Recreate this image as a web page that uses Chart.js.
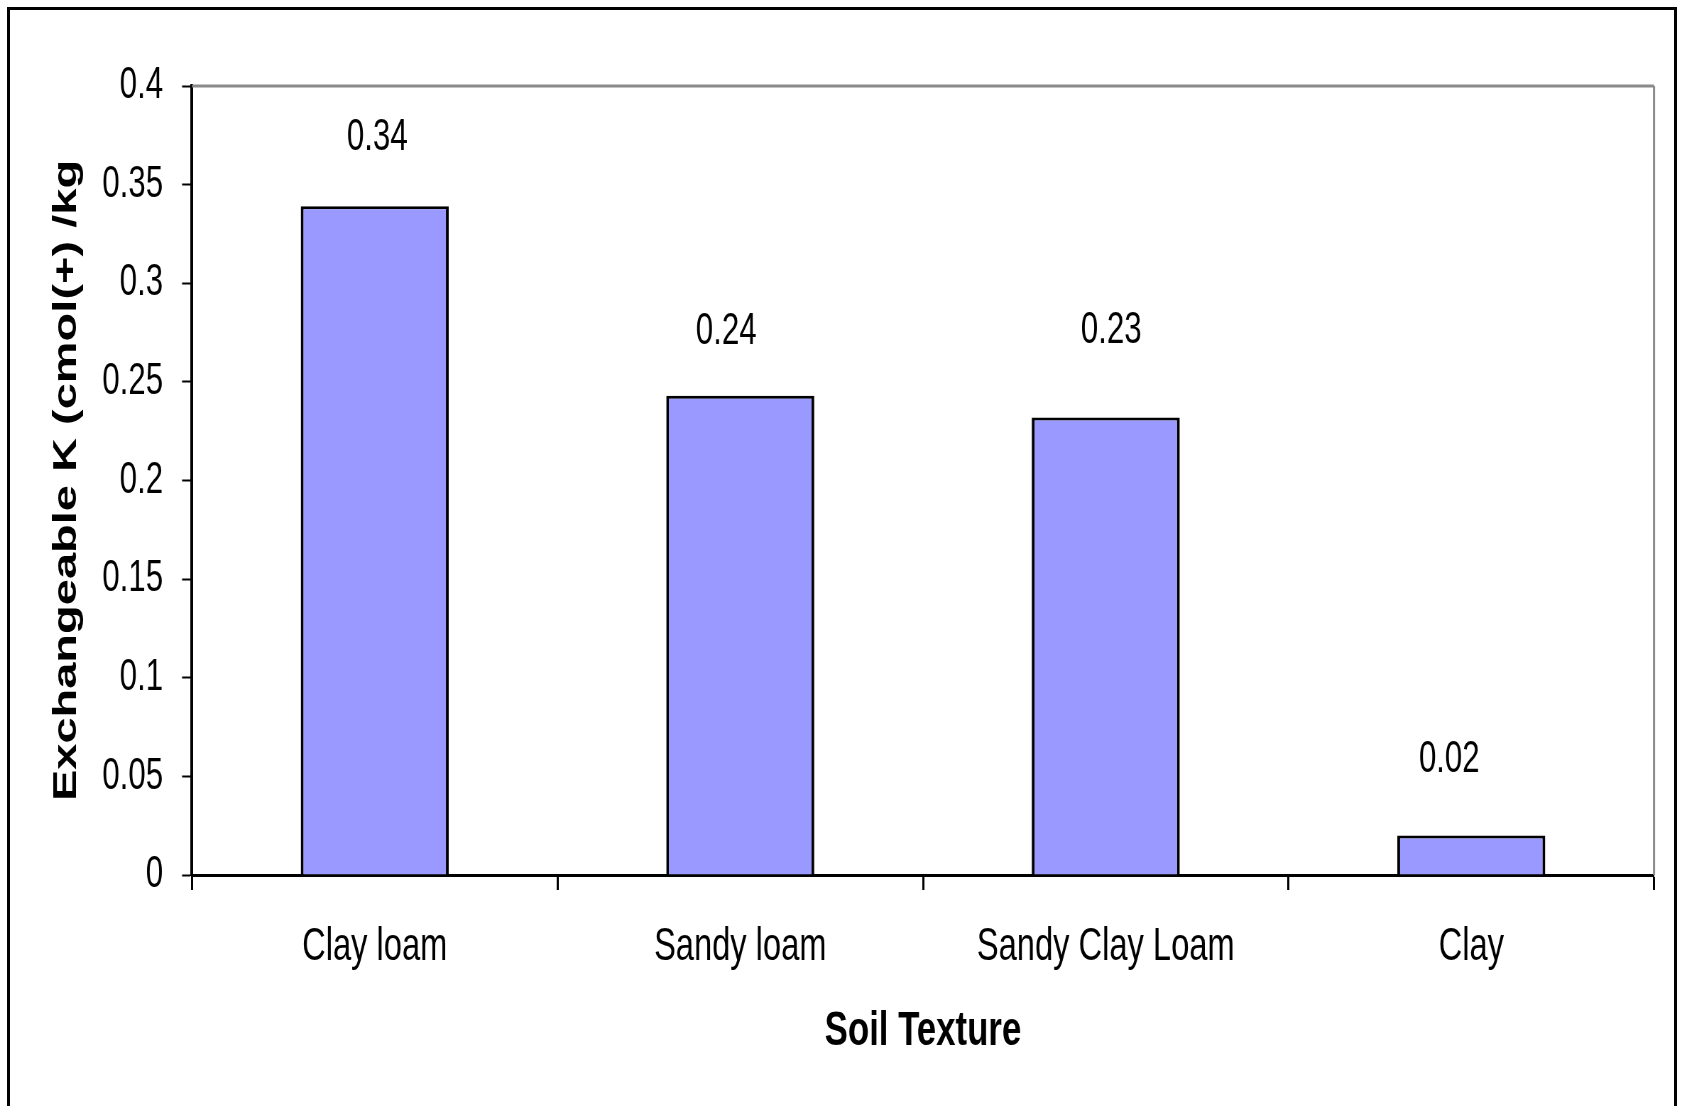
<!DOCTYPE html>
<html lang="en">
<head>
    <meta charset="UTF-8">
    <title>Exchangeable K by Soil Texture</title>
    <script src="https://cdn.jsdelivr.net/npm/chart.js"></script>
    <style>
        html, body { margin: 0; padding: 0; background: #fff; overflow: hidden; }
        body { width: 1683px; height: 1106px; position: relative; }
        .frame {
            position: absolute; left: 7px; top: 7px;
            width: 1664px; height: 1200px;
            border: 3px solid #000;
        }
        /* the chart is laid out wide and squeezed horizontally, which gives the narrow lettering */
        .chart-box {
            position: absolute; left: 0; top: 0;
            width: 2370px; height: 1106px;
            transform: scaleX(0.71);
            transform-origin: 0 0;
        }
    </style>
</head>
<body>
    <div class="frame"></div>
    <div class="chart-box"><canvas id="kChart"></canvas></div>

    <script>
        const SQUISH = 0.71;

        // Exchangeable K per soil texture class
        const textures = ['Clay loam', 'Sandy loam', 'Sandy Clay Loam', 'Clay'];
        const exchangeableK = [0.339, 0.243, 0.232, 0.02];

        const yTicks = [0, 0.05, 0.1, 0.15, 0.2, 0.25, 0.3, 0.35, 0.4];
        const yTickLabels = ['0', '0.05', '0.1', '0.15', '0.2', '0.25', '0.3', '0.35', '0.4'];

        const FONT = '"Liberation Sans", Arial, sans-serif';

        // hand placed value labels: [dx, dy] in screen px
        const labelNudge = [[2.5, 0], [-14, 4], [5.5, -18], [-22, -8]];

        const valueLabels = {
            id: 'valueLabels',
            afterDatasetsDraw(chart) {
                const ctx = chart.ctx;
                const meta = chart.getDatasetMeta(0);
                ctx.save();
                ctx.font = '44px ' + FONT;
                ctx.fillStyle = '#000';
                ctx.textAlign = 'center';
                ctx.textBaseline = 'alphabetic';
                meta.data.forEach((bar, i) => {
                    const v = chart.data.datasets[0].data[i];
                    const [dx, dy] = labelNudge[i];
                    ctx.fillText(v.toFixed(2), bar.x + dx / SQUISH, bar.y - 56 + dy);
                });
                ctx.restore();
            }
        };

        // grey top and right edge of the plot area
        const plotFrame = {
            id: 'plotFrame',
            beforeDatasetsDraw(chart) {
                const { ctx, chartArea: a } = chart;
                ctx.save();
                ctx.strokeStyle = '#8a8a8a';
                ctx.lineWidth = 3;
                ctx.beginPath();
                ctx.moveTo(a.left, a.top);
                ctx.lineTo(a.right, a.top);
                ctx.stroke();
                ctx.beginPath();
                ctx.moveTo(a.right, a.top);
                ctx.lineTo(a.right, a.bottom);
                ctx.stroke();
                ctx.restore();
            }
        };

        const ctx = document.getElementById('kChart').getContext('2d');
        new Chart(ctx, {
            type: 'bar',
            data: {
                labels: textures,
                datasets: [{
                    data: exchangeableK,
                    backgroundColor: '#9999ff',
                    borderColor: '#000',
                    borderWidth: { top: 3, left: 4, right: 4, bottom: 0 },
                    borderSkipped: false,
                    barPercentage: 0.405,
                    categoryPercentage: 1.0
                }]
            },
            options: {
                responsive: true,
                maintainAspectRatio: false,
                animation: false,
                layout: { padding: { top: 86, right: 40.4, bottom: 0, left: 0 } },
                plugins: {
                    legend: { display: false },
                    tooltip: { enabled: false }
                },
                scales: {
                    x: {
                        afterFit: s => { s.height = 231; },
                        grid: {
                            offset: true,
                            drawOnChartArea: false,
                            tickLength: 15,
                            tickWidth: 3,
                            tickColor: '#000'
                        },
                        border: { color: '#000', width: 3 },
                        ticks: {
                            padding: 29.4,
                            color: '#000',
                            font: { family: FONT, size: 46 }
                        },
                        title: {
                            display: true,
                            text: 'Soil Texture',
                            color: '#000',
                            font: { family: FONT, size: 49, weight: 'bold' },
                            padding: { top: 0, bottom: 45 }
                        }
                    },
                    y: {
                        min: 0,
                        max: 0.4,
                        afterFit: s => { s.width = 270.4; },
                        afterBuildTicks: s => { s.ticks = yTicks.map(v => ({ value: v })); },
                        grid: {
                            drawOnChartArea: false,
                            tickLength: 14,
                            tickWidth: 2,
                            tickColor: '#000'
                        },
                        border: { color: '#000', width: 4 },
                        ticks: {
                            padding: 26.8,
                            color: '#000',
                            font: { family: FONT, size: 44 },
                            callback: (value, index) => yTickLabels[index]
                        },
                        title: {
                            display: true,
                            text: 'Exchangeable K (cmol(+) /kg',
                            color: '#000',
                            font: { family: FONT, size: 47, weight: 'bold' },
                            padding: { top: 66, bottom: 0 }
                        }
                    }
                }
            },
            plugins: [plotFrame, valueLabels]
        });
    </script>
</body>
</html>
